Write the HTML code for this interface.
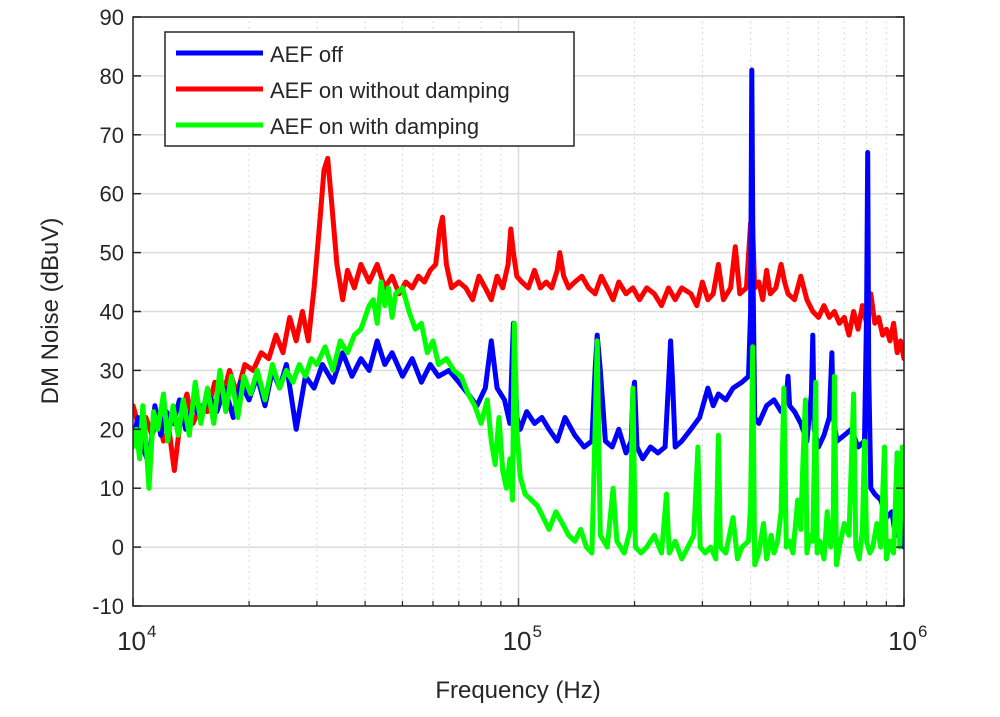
<!DOCTYPE html>
<html><head><meta charset="utf-8"><style>
body{margin:0;background:#fff;}
svg text{font-family:"Liberation Sans",sans-serif;fill:#262626;}
</style></head><body>
<svg id="chart" width="1000" height="712" xmlns="http://www.w3.org/2000/svg">
<defs><clipPath id="pc"><rect x="133" y="17" width="771" height="589"/></clipPath></defs>
<g id="grid"></g>
<g id="series" clip-path="url(#pc)"></g>
<rect x="133" y="17" width="771" height="589" fill="none" stroke="#262626" stroke-width="1.5"/>
<g id="ticks"></g>
<text x="518" y="698" font-size="24" text-anchor="middle">Frequency (Hz)</text>
<text transform="translate(58,311) rotate(-90)" font-size="24" text-anchor="middle">DM Noise (dBuV)</text>
<g>
<rect x="165" y="32" width="409" height="114" fill="#fff" stroke="#262626" stroke-width="1.5"/>
<line x1="176" y1="53" x2="263" y2="53" stroke="#0000ff" stroke-width="5"/>
<text x="270" y="62" font-size="22">AEF off</text>
<line x1="176" y1="89" x2="263" y2="89" stroke="#ff0000" stroke-width="5"/>
<text x="270" y="98" font-size="22">AEF on without damping</text>
<line x1="176" y1="125" x2="263" y2="125" stroke="#00ff00" stroke-width="5"/>
<text x="270" y="134" font-size="22">AEF on with damping</text>
</g>
</svg>
<script>
const yTicks=[-10,0,10,20,30,40,50,60,70,80,90];
const xDecades=[4,5,6];
const blueF=[10,10.3,10.6,11,11.4,11.8,12.2,12.7,13.2,13.7,14.3,15,15.7,16.5,17.3,18.2,19,20,21,22,23,24,25,26.5,28,29.5,31,33,35,37,39,41,43,45,47,50,53,56,59,62,66,70,74,78,82,85,88,92,95,97,99,101,105,110,115,120,126,132,140,148,155,158,160,163,168,175,182,190,196,198,200,203,210,220,230,240,246,248,251,255,265,280,295,310,320,330,345,360,380,395,400,403,406,410,420,440,460,480,495,500,505,520,540,560,575,580,585,600,620,640,650,655,670,700,730,760,790,800,805,810,820,840,870,900,930,950,960,970,985,1000];
const blueV=[18,22,17,14,24,19,23,21,25,20,24,22,26,23,27,22,28,25,29,24,30,27,31,20,29,27,31,28,33,29,32,30,35,31,33,29,32,28,31,29,30,28,26,24,27,35,27,25,21,38,22,20,23,21,22,20,18,22,19,17,18,30,36,30,18,17,20,16,18,26,28,17,15,17,16,17,30,35,28,17,18,20,22,27,24,26,25,27,28,29,40,81,45,22,21,24,25,23,25,29,24,23,21,18,26,36,20,17,19,22,33,22,18,19,20,17,18,40,67,30,10,9,8,5,6,2,16,8,3,0];
const redF=[10,10.4,10.8,11.2,11.6,12,12.4,12.8,13.3,13.8,14.3,15,15.6,16.3,17,17.8,18.6,19.5,20.5,21.5,22.5,23.5,24.5,25.5,26.5,27.5,28.5,29.5,30.5,31.3,32,32.8,33.8,35,36,37.5,39,41,43,45,47,49,51,53,55,57,59,61,62.5,63.5,65,67,70,73,76,79,82,85,88,91,94,95.5,97,99,102,106,110,114,118,122,126,128,131,135,140,146,152,158,164,170,176,182,190,198,206,215,225,235,245,255,265,280,290,300,310,320,330,340,355,365,375,390,400,405,410,420,430,440,450,465,480,490,500,520,540,560,580,600,620,640,660,680,700,720,740,760,780,800,820,840,860,880,900,920,940,960,980,1000];
const redV=[24,20,22,19,22,18,20,13,22,26,21,24,23,28,25,30,26,31,30,33,32,36,33,39,35,40,35,44,55,64,66,58,48,42,47,44,48,45,48,44,46,43,45,44,46,45,47,48,54,56,48,44,45,44,42,46,44,42,46,44,48,54,50,46,45,44,47,44,45,44,47,50,46,44,45,46,44,43,46,44,42,45,43,44,42,44,43,41,44,42,44,43,41,45,42,43,48,42,44,51,43,44,55,54,44,45,42,47,43,44,48,45,43,42,46,42,40,39,41,39,40,38,39,36,40,37,41,38,43,38,39,36,37,35,38,33,35,32];
const greenF=[10,10.2,10.4,10.6,10.8,11,11.3,11.6,12,12.3,12.7,13.1,13.5,14,14.5,15,15.6,16.2,16.8,17.4,18,18.7,19.4,20.2,21,22,23,24,25,26,27,28,29,30,31.5,33,34.5,36,37.5,39,40,41,42,43,44,45,46,47,48,50,52,54,56,58,60,62,65,68,71,74,77,80,83,85,87,89,91,93,95,96.5,97.5,99,101,104,108,112,116,120,125,130,135,140,145,150,155,158,160,163,170,176,180,188,195,198,201,208,215,225,235,242,246,255,265,275,285,292,296,305,315,325,330,334,345,360,370,380,395,400,405,410,420,432,440,452,460,470,480,488,495,505,515,530,540,545,555,560,570,580,590,595,605,620,632,645,655,660,668,680,700,720,740,750,765,780,790,800,815,830,850,870,890,900,920,940,960,975,990,1000];
const greenV=[17,20,15,24,18,10,23,20,26,18,24,19,25,19,28,21,27,21,30,23,29,22,29,26,30,25,31,27,30,28,31,29,32,31,34,30,35,33,36,37,39,41,42,38,45,41,44,39,43,44,40,37,38,33,35,31,32,30,29,26,24,21,25,18,14,22,13,10,15,8,38,20,12,9,8,7,5,3,6,4,2,1,3,0,-1,20,35,2,0,10,1,-1,3,27,0,-1,0,2,-1,9,-1,1,-2,0,2,17,0,-1,0,-2,19,0,-1,5,-2,0,1,7,34,-3,-1,4,-2,2,-1,1,6,27,0,1,-1,8,3,12,25,-1,2,1,28,-1,1,-2,6,0,4,29,-3,0,4,2,26,0,-2,3,18,1,-1,0,4,0,17,-2,1,-1,16,0,17,5];
const X0=133,X1=904,Y0=606,Y1=17;
function xs(fk){return X0+(Math.log10(fk*1000)-4)/2*(X1-X0);}
function ys(v){return Y0-(v+10)/100*(Y0-Y1);}
const NS='http://www.w3.org/2000/svg';
function mk(tag,attrs,parent){const e=document.createElementNS(NS,tag);for(const k in attrs)e.setAttribute(k,attrs[k]);parent.appendChild(e);return e;}
const grid=document.getElementById('grid'),ticks=document.getElementById('ticks'),series=document.getElementById('series');
yTicks.forEach(v=>{
  const g=mk('line',{x1:X0,x2:X1,y1:ys(v),y2:ys(v),stroke:'#dcdcdc','stroke-width':1.5},grid);
  
  
  const t=mk('line',{x1:X0,x2:X0+8,y1:ys(v),y2:ys(v),stroke:'#262626','stroke-width':1.5},ticks);
  
  
  const t2=mk('line',{x1:X1-8,x2:X1,y1:ys(v),y2:ys(v),stroke:'#262626','stroke-width':1.5},ticks);
  
  
  const l=mk('text',{x:X0-9,y:ys(v)+8,'font-size':22,'text-anchor':'end'},ticks);
  l.textContent=v;
  
  
});
xDecades.forEach((d,i)=>{
  const x=xs(Math.pow(10,d)/1000);
  const g=mk('line',{x1:x,x2:x,y1:Y0,y2:Y1,stroke:'#dcdcdc','stroke-width':1.5},grid);
  
  
  const t=mk('line',{x1:x,x2:x,y1:Y0,y2:Y0-8,stroke:'#262626','stroke-width':1.5},ticks);
  
  
  const l=mk('text',{x:x+13,y:650,'font-size':26,'text-anchor':'end'},ticks);
  l.textContent='10';
  
  
  const s=mk('text',{x:x+14,y:637,'font-size':17},ticks);
  s.textContent=String(d);
  
  
  if(i<xDecades.length-1){
    for(let m=2;m<=9;m++){
      const xm=xs(m*Math.pow(10,d)/1000);
      const mg=mk('line',{x1:xm,x2:xm,y1:Y0,y2:Y1,stroke:'#cfcfcf','stroke-width':1,'stroke-dasharray':'1.5,4'},grid);
      
      
      const mt=mk('line',{x1:xm,x2:xm,y1:Y0,y2:Y0-5,stroke:'#262626','stroke-width':1.2},ticks);
      
      
    }
  }
});
function draw(F,V,color,name){
  const d=F.map((f,i)=>(i?'L':'M')+xs(f).toFixed(1)+','+ys(V[i]).toFixed(1)).join('');
  const p=mk('path',{d:d,fill:'none',stroke:color,'stroke-width':5,'stroke-linejoin':'round','stroke-linecap':'round'},series);
  
  
}
draw(redF,redV,'#ff0000','line-aef-on-without-damping');
draw(blueF,blueV,'#0000ff','line-aef-off');
draw(greenF,greenV,'#00ff00','line-aef-on-with-damping');
</script>
</body></html>
